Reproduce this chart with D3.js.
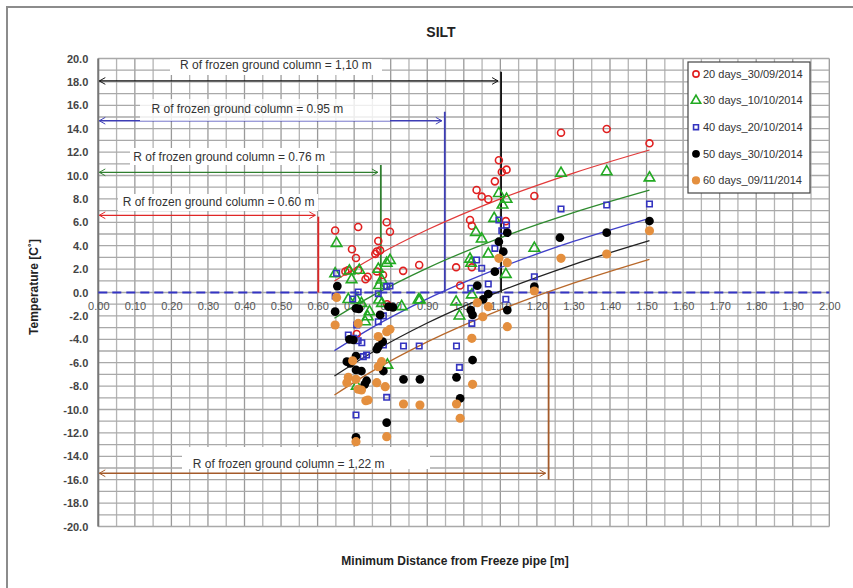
<!DOCTYPE html>
<html>
<head>
<meta charset="utf-8">
<script src="https://cdn.jsdelivr.net/npm/d3@7"></script>
<style>
  body { margin: 0; background: #fff; }
  svg { display: block; font-family: "Liberation Sans", Arial, sans-serif; }
</style>
</head>
<body>
<svg id="chart" width="853" height="588"></svg>
<script>
// series: [distance (m), temperature (C)]
const days20 = [[0.648,5.3],[0.711,5.6],[0.789,6.0],[0.798,5.2],[0.694,3.7],[0.705,2.95],[0.766,4.4],[0.762,3.5],
  [0.771,3.6],[0.758,3.3],[0.683,1.9],[0.676,1.8],[0.711,1.9],[0.737,1.35],[0.731,1.13],[0.762,1.8],[0.779,1.5],
  [0.834,1.85],[0.878,2.35],[1.096,11.3],[1.104,10.3],[1.117,10.5],[1.085,9.5],[1.035,8.76],[1.049,8.2],[1.067,7.97],
  [1.017,6.2],[1.022,5.7],[1.115,6.1],[1.193,8.25],[0.979,2.15],[1.022,2.15],[0.99,0.6],[1.266,13.66],[1.391,13.97],
  [1.508,12.75],[0.79,-1.0],[0.707,-3.55]];
const days30 = [[0.652,4.2],[0.648,1.6],[0.687,1.84],[0.714,1.9],[0.693,1.1],[0.766,2.0],[0.789,2.5],[0.798,2.75],
  [0.768,0.6],[0.775,1.07],[0.684,-0.6],[0.707,-0.64],[0.72,-0.93],[0.737,-2.07],[0.742,-1.64],[0.768,-0.64],
  [0.776,-0.93],[0.83,-1.2],[0.876,-0.64],[0.73,-2.5],[0.791,-6.2],[0.707,-8.0],[1.096,8.47],[1.117,7.97],[1.106,7.48],
  [1.083,6.34],[1.033,5.14],[1.049,4.57],[1.067,3.29],[1.017,2.86],[1.02,2.5],[1.115,1.55],[1.193,3.78],[0.88,-0.64],
  [0.979,-0.8],[1.022,-0.2],[0.988,-2.0],[1.266,10.19],[1.391,10.33],[1.508,9.8]];
const days40 = [[0.652,1.64],[0.648,-0.3],[0.711,0.05],[0.766,-0.1],[0.789,0.5],[0.798,0.55],[0.696,-0.56],[0.766,-2.5],
  [0.78,-2.0],[0.684,-3.63],[0.698,-3.92],[0.711,-4.12],[0.721,-4.29],[0.734,-5.34],[0.725,-5.48],[0.78,-4.49],
  [0.835,-4.57],[0.878,-4.57],[0.789,-8.96],[0.705,-10.47],[0.707,-2.78],[1.096,6.2],[1.117,5.77],[1.104,5.28],
  [1.085,3.77],[1.035,2.78],[1.049,2.07],[1.019,0.36],[1.067,0.73],[1.115,-0.58],[1.022,-2.64],[1.193,1.35],
  [0.98,-4.57],[0.988,-6.4],[1.266,7.14],[1.391,7.48],[1.508,7.56]];
const days50 = [[0.654,0.55],[0.648,-1.64],[0.705,-1.35],[0.713,-1.4],[0.771,-1.92],[0.794,-1.21],[0.806,-1.27],
  [0.687,-4.0],[0.698,-4.06],[0.766,-4.63],[0.778,-4.2],[0.762,-4.85],[0.705,-5.43],[0.68,-5.91],[0.689,-6.05],
  [0.705,-6.62],[0.72,-6.71],[0.78,-6.71],[0.734,-7.54],[0.729,-7.85],[0.835,-7.42],[0.88,-7.42],[0.789,-11.12],
  [0.705,-12.38],[1.096,4.34],[1.119,5.11],[1.108,3.49],[1.085,1.78],[1.037,0.58],[1.067,-0.13],[1.053,-0.58],
  [1.019,-1.5],[1.024,-1.92],[1.119,-1.5],[1.193,0.5],[1.024,-5.77],[0.98,-7.25],[0.99,-9.05],[1.263,4.68],
  [1.391,5.11],[1.508,6.11]];
const days60 = [[0.648,-2.78],[0.652,-0.42],[0.711,-2.64],[0.696,-5.83],[0.684,-7.25],[0.68,-7.71],[0.705,-7.42],
  [0.711,-8.27],[0.72,-8.33],[0.732,-9.25],[0.738,-9.19],[0.766,-3.77],[0.789,-3.35],[0.798,-3.15],[0.775,-5.91],
  [0.766,-6.34],[0.762,-7.71],[0.785,-8.05],[0.835,-9.53],[0.88,-9.62],[0.789,-12.32],[0.705,-12.75],[1.096,2.92],
  [1.119,2.55],[1.037,-0.87],[1.067,-1.21],[1.052,-2.07],[1.022,-3.92],[1.119,-2.92],[1.193,0.13],[1.024,-7.85],
  [0.98,-9.53],[0.99,-10.75],[1.266,2.92],[1.391,3.29],[1.508,5.28]];

// trend lines at these distances
const trendX = [0.646, 0.75, 0.9, 1.1, 1.3, 1.508];
const trend20 = [0.98, 2.95, 5.36, 8.01, 10.21, 12.18];
const trend30 = [-2.2, -0.27, 2.09, 4.67, 6.82, 8.74];
const trend40 = [-4.97, -2.98, -0.54, 2.13, 4.36, 6.34];
const trend50 = [-7.14, -5.11, -2.61, 0.12, 2.39, 4.43];
const trend60 = [-8.76, -6.72, -4.22, -1.48, 0.80, 2.84];

const seriesNames = ["20 days_30/09/2014", "30 days_10/10/2014", "40 days_20/10/2014", "50 days_30/10/2014", "60 days_09/11/2014"];

// frozen column radii (as drawn) and their labels
const radii = [0.602, 0.773, 0.948, 1.102, 1.232];
const radiusLabels = ["0.60 m", "0.76 m", "0.95 m", "1,10 m", "1,22 m"];

const xTicks = d3.range(0, 21).map(i => i / 10);
const yTicks = d3.range(-20, 21, 2);

const svg = d3.select("#chart");
const x = d3.scaleLinear().domain([0, 2]).range([98.3, 829.3]);
const y = d3.scaleLinear().domain([-20, 20]).range([526.5, 58.5]);

// outer frame
svg.append("rect").attr("x", 7).attr("y", 7).attr("width", 900).attr("height", 700)
  .attr("fill", "none").attr("stroke", "#8c8c8c").attr("stroke-width", 2);

svg.append("text").attr("x", 441).attr("y", 37).attr("text-anchor", "middle")
  .attr("font-size", 14).attr("font-weight", "bold").attr("fill", "#222").text("SILT");

// grid
const grid = svg.append("g").attr("stroke", "#a9a9a9").attr("stroke-width", 1.3);
grid.selectAll("line.v").data(d3.range(0, 41).map(i => i * 0.05)).join("line").attr("class", "v")
  .attr("x1", d => x(d)).attr("x2", d => x(d)).attr("y1", y(20)).attr("y2", y(-20))
  .attr("stroke", (d, i) => i % 2 === 0 ? "#9a9a9a" : "#b4b4b4");
grid.selectAll("line.h").data(d3.range(-20, 21)).join("line").attr("class", "h")
  .attr("x1", x(0)).attr("x2", x(2)).attr("y1", d => y(d)).attr("y2", d => y(d));
svg.append("line").attr("x1", x(0)).attr("x2", x(0)).attr("y1", y(20)).attr("y2", y(-20))
  .attr("stroke", "#777").attr("stroke-width", 2);

// axes
const xAxis = svg.append("g").attr("transform", `translate(0,${y(0)})`)
  .call(d3.axisBottom(x).tickValues(xTicks).tickFormat(d => d.toFixed(2)).tickSize(0).tickPadding(10));
xAxis.select(".domain").remove();
xAxis.selectAll("text").attr("font-size", 11).attr("fill", "#555").attr("font-family", "Liberation Sans");

const yAxis = svg.append("g").attr("transform", `translate(${x(0)},0)`)
  .call(d3.axisLeft(y).tickValues(yTicks).tickFormat(d => d.toFixed(1)).tickSize(0).tickPadding(10));
yAxis.select(".domain").remove();
yAxis.selectAll("text").attr("font-size", 11).attr("font-weight", "bold").attr("fill", "#444")
  .attr("font-family", "Liberation Sans");

svg.append("text").attr("transform", "translate(38,287) rotate(-90)").attr("text-anchor", "middle")
  .attr("font-size", 12).attr("font-weight", "bold").attr("fill", "#222").text("Temperature [C˚]");
svg.append("text").attr("x", 455).attr("y", 565).attr("text-anchor", "middle")
  .attr("font-size", 12).attr("font-weight", "bold").attr("fill", "#222")
  .text("Minimum Distance from Freeze pipe [m]");

// zero line
svg.append("line").attr("x1", x(0)).attr("x2", x(2)).attr("y1", y(0)).attr("y2", y(0))
  .attr("stroke", "#3434c4").attr("stroke-width", 2).attr("stroke-dasharray", "9,5");

// frozen column annotations
const annColors = ["#e02626", "#2f7f2f", "#3d3db5", "#111111", "#a45a2a"];
const annArrow = [6.6, 10.27, 14.68, 18.08, -15.45];
const annTop = [6.48, 10.9, 15.45, 18.87, 0];
const annBottom = [0, 0, 0, 0, -16.0];
const annText = [[0.329, 7.73], [0.358, 11.6], [0.408, 15.74], [0.486, 19.44], [0.521, -14.6]];
const annBox = [[118, 194, 200, 17, 1], [130, 148, 200, 17, 1], [140, 99, 250, 22, 0.8], [170, 59, 212, 16, 1], [182, 447, 248, 22, 1]];

const defs = svg.append("defs");
annColors.forEach((c, i) => {
  defs.append("marker").attr("id", "ah" + i).attr("viewBox", "-10 -6 12 12")
    .attr("markerWidth", 9).attr("markerHeight", 9).attr("orient", "auto-start-reverse")
    .attr("markerUnits", "userSpaceOnUse").attr("refX", 0).attr("refY", 0)
    .append("path").attr("d", "M-8,-4.5 L0,0 L-8,4.5").attr("fill", "none").attr("stroke", c).attr("stroke-width", 1.3);
});

const ann = svg.append("g");
radii.forEach((r, i) => {
  ann.append("line").attr("x1", x(0) + 1).attr("x2", x(r) - 3).attr("y1", y(annArrow[i])).attr("y2", y(annArrow[i]))
    .attr("stroke", annColors[i]).attr("stroke-width", 1.3)
    .attr("marker-start", `url(#ah${i})`).attr("marker-end", `url(#ah${i})`);
});
annBox.forEach(b => {
  ann.append("rect").attr("x", b[0]).attr("y", b[1]).attr("width", b[2]).attr("height", b[3])
    .attr("fill", "#fff").attr("fill-opacity", b[4]);
});
radii.forEach((r, i) => {
  ann.append("line").attr("x1", x(r)).attr("x2", x(r)).attr("y1", y(annTop[i])).attr("y2", y(annBottom[i]))
    .attr("stroke", annColors[i]).attr("stroke-width", 1.8);
  ann.append("text").attr("x", x(annText[i][0])).attr("y", y(annText[i][1])).attr("dy", "0.35em")
    .attr("text-anchor", "middle").attr("font-size", 12).attr("fill", "#333")
    .text("R of frozen ground column = " + radiusLabels[i]);
});

// trend lines
const trendColors = ["#e23a3a", "#2e8b2e", "#4040c8", "#222222", "#b8682a"];
const trends = [trend20, trend30, trend40, trend50, trend60];
const line = d3.line().x(d => x(d[0])).y(d => y(d[1])).curve(d3.curveMonotoneX);
trends.forEach((t, i) => {
  svg.append("path").datum(trendX.map((d, j) => [d, t[j]])).attr("d", line)
    .attr("fill", "none").attr("stroke", trendColors[i]).attr("stroke-width", 1.3);
});

// scatter
const markers = [
  { data: days20, type: d3.symbolCircle, size: 38, fill: "none", stroke: "#e02020" },
  { data: days30, type: d3.symbolTriangle, size: 48, fill: "none", stroke: "#22aa22" },
  { data: days40, type: d3.symbolSquare, size: 30, fill: "none", stroke: "#3434c0" },
  { data: days50, type: d3.symbolCircle, size: 60, fill: "#000", stroke: "none" },
  { data: days60, type: d3.symbolCircle, size: 66, fill: "#e48f3e", stroke: "none" }
];
markers.forEach(m => {
  svg.append("g").selectAll("path").data(m.data).join("path")
    .attr("transform", d => `translate(${x(d[0])},${y(d[1])})`)
    .attr("d", d3.symbol().type(m.type).size(m.size))
    .attr("fill", m.fill).attr("stroke", m.stroke).attr("stroke-width", 1.6);
});

// legend
const lg = svg.append("g").attr("transform", "translate(688,62)");
lg.append("rect").attr("width", 122).attr("height", 131).attr("fill", "#fff")
  .attr("stroke", "#444").attr("stroke-width", 1.2);
seriesNames.forEach((name, i) => {
  const m = markers[i];
  const row = lg.append("g").attr("transform", `translate(8,${12 + i * 26.6})`);
  row.append("path").attr("d", d3.symbol().type(m.type).size(m.size * 0.8))
    .attr("fill", m.fill).attr("stroke", m.stroke).attr("stroke-width", 1.6);
  row.append("text").attr("x", 7).attr("dy", "0.35em").attr("font-size", 11).attr("fill", "#333").text(name);
});
</script>
</body>
</html>
